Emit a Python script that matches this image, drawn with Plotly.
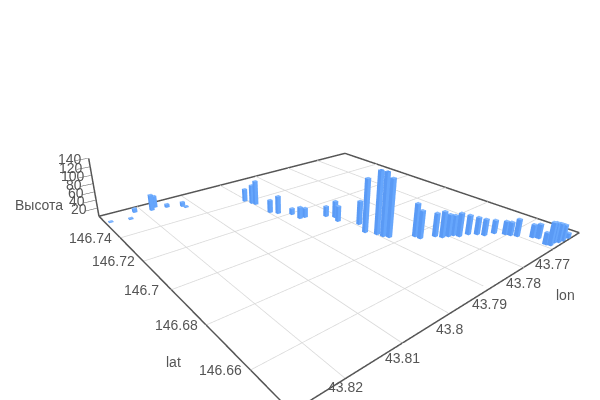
import plotly.graph_objects as go

lat = [146.7545,146.7525,146.7577,146.7555,146.7575,146.7546,146.7517,146.7499,146.7408,146.7374,146.7356,146.7258,146.7232,146.7192,146.7146,146.7142,
146.7100,146.7073,146.7041,146.6975,146.6917,146.6880,146.6857,146.6840,146.6789,146.6769,146.6747,146.6727,146.6719,146.6713,146.6696,146.6686,
146.6667,146.6647,146.6635,146.6607,146.6592,146.6574,146.6537,146.6521,146.6485,146.6472,146.6474,146.6466,146.6462,146.6460]
lon = [43.8269,43.8233,43.8214,43.8182,43.8171,43.8151,43.8123,43.8120,43.8005,43.7999,43.7996,43.7996,43.7986,43.7967,43.7966,43.7955,
43.7919,43.7908,43.7916,43.7893,43.7909,43.7898,43.7895,43.7889,43.7849,43.7848,43.7820,43.7813,43.7801,43.7790,43.7785,43.7765,
43.7752,43.7745,43.7723,43.7711,43.7707,43.7701,43.7683,43.7678,43.7691,43.7688,43.7673,43.7665,43.7653,43.7635]
height = [2,3,10,39,29,8,11,3,32,47,60,31,43,15,28,23,25,40,37,56,124,149,148,133,76,64,54,60,51,47,54,45,
40,38,31,31,31,40,30,33,27,52,46,43,37,12]
lat_ticks = [146.66,146.68,146.7,146.72,146.74]
lon_ticks = [43.77,43.78,43.79,43.8,43.81,43.82]
z_ticks = [20,40,60,80,100,120,140]
lat_range = [146.645,146.7625]
lon_range = [43.7595,43.828]
z_range = [0,145]
z_top = 140

TEXT = "#555555"
FONT = dict(family="Liberation Sans",size=14,color=TEXT)
BAR_HALF = 0.006
TOP,FA,FB = "#84b9ff","#66a6fc","#5a9af5"
LON_LABEL_DY = [-15,-15,-15,-15,-15,-8]
EDGE_INSET = 0.002
EDGE_STEPS = 20

dlat = (lat_range[1]-lat_range[0])*BAR_HALF
dlon = (lon_range[1]-lon_range[0])*BAR_HALF
X,Y,Z,I,J,K,FC = [],[],[],[],[],[],[]
faces = [(0,1,2,FA),(0,2,3,FA),(4,5,6,TOP),(4,6,7,TOP),(0,1,5,FB),(0,5,4,FB),(1,2,6,FA),(1,6,5,FA),(2,3,7,FB),(2,7,6,FB),(3,0,4,FA),(3,4,7,FA)]
for a,b,h in zip(lat,lon,height):
    n = len(X)
    for dz in (0,h):
        for sx,sy in ((-1,-1),(1,-1),(1,1),(-1,1)):
            X.append(a+sx*dlat); Y.append(b+sy*dlon); Z.append(dz)
    for i,j,k,c in faces:
        I.append(n+i); J.append(n+j); K.append(n+k); FC.append(c)

fig = go.Figure()
fig.add_trace(go.Mesh3d(x=X,y=Y,z=Z,i=I,j=J,k=K,facecolor=FC,flatshading=True,
    lighting=dict(ambient=1,diffuse=0,specular=0,fresnel=0),hoverinfo="skip"))

gx,gy,gz = [],[],[]
for t in lat_ticks:
    gx += [t,t,None]; gy += [lon_range[0],lon_range[1],None]; gz += [0,0,None]
for t in lon_ticks:
    gx += [lat_range[0],lat_range[1],None]; gy += [t,t,None]; gz += [0,0,None]
fig.add_trace(go.Scatter3d(x=gx,y=gy,z=gz,mode="lines",line=dict(color="#d8d8d8",width=1.5),hoverinfo="skip"))

ila = (lat_range[1]-lat_range[0])*EDGE_INSET
ilo = (lon_range[1]-lon_range[0])*EDGE_INSET
la0,la1 = lat_range[0]+ila,lat_range[1]-ila
lo0,lo1 = lon_range[0]+ilo,lon_range[1]-ilo
def edge(p,q):
    pts = [[p[d]+(q[d]-p[d])*s/EDGE_STEPS for s in range(EDGE_STEPS+1)] for d in range(3)]
    fig.add_trace(go.Scatter3d(x=pts[0],y=pts[1],z=pts[2],mode="lines",line=dict(color="#555555",width=3),hoverinfo="skip"))
edge((la0,lo0,0),(la1,lo0,0))
edge((la1,lo0,0),(la1,lo1,0))
edge((la1,lo1,0),(la0,lo1,0))
edge((la0,lo1,0),(la0,lo0,0))
edge((la1,lo1,0),(la1,lo1,z_top))

axis = dict(showgrid=False,zeroline=False,showbackground=False,showspikes=False,showline=False,
            title=dict(text=""),showticklabels=False,ticks="",ticklen=0)
scene_ann = []
for t in lat_ticks:
    scene_ann.append(dict(x=t,y=lo1,z=0,text=str(t),showarrow=False,xanchor="center",yanchor="middle",xshift=-30,yshift=0,font=FONT))
for t,dy in zip(lon_ticks,LON_LABEL_DY):
    scene_ann.append(dict(x=la0,y=t,z=0,text=str(t),showarrow=False,xanchor="center",yanchor="middle",xshift=0,yshift=dy,font=FONT))
for t in z_ticks:
    scene_ann.append(dict(x=la1,y=lo1,z=t,text=str(t),showarrow=False,xanchor="center",yanchor="middle",xshift=-19,yshift=-1,font=FONT))

def title(text,x,y):
    return dict(x=x/600,y=1-y/400,xref="paper",yref="paper",text=text,showarrow=False,xanchor="center",yanchor="middle",font=FONT)

fig.update_layout(width=600,height=400,margin=dict(l=0,r=0,t=0,b=0),showlegend=False,paper_bgcolor="white",
    scene=dict(domain=dict(x=[0,1],y=[0,1]),aspectmode="manual",aspectratio=dict(x=0.9351,y=1,z=0.1851),
        camera=dict(eye=dict(x=-0.9159,y=0.8404,z=0.5043),center=dict(x=0.0570,y=0.0654,z=-0.0195),up=dict(x=0,y=0,z=1),projection=dict(type="perspective")),
        xaxis=dict(axis,range=lat_range,tickvals=lat_ticks),
        yaxis=dict(axis,range=lon_range,tickvals=lon_ticks),
        zaxis=dict(axis,range=z_range,tickvals=z_ticks,ticks="outside",ticklen=4,tickcolor="#555555"),
        annotations=scene_ann),
    annotations=[title("Высота",39,205),title("lat",173,362),title("lon",565,295)])
fig.write_html("out.html",config=dict(displayModeBar=False),post_script="document.body.style.margin='0';document.body.style.overflow='hidden';")
